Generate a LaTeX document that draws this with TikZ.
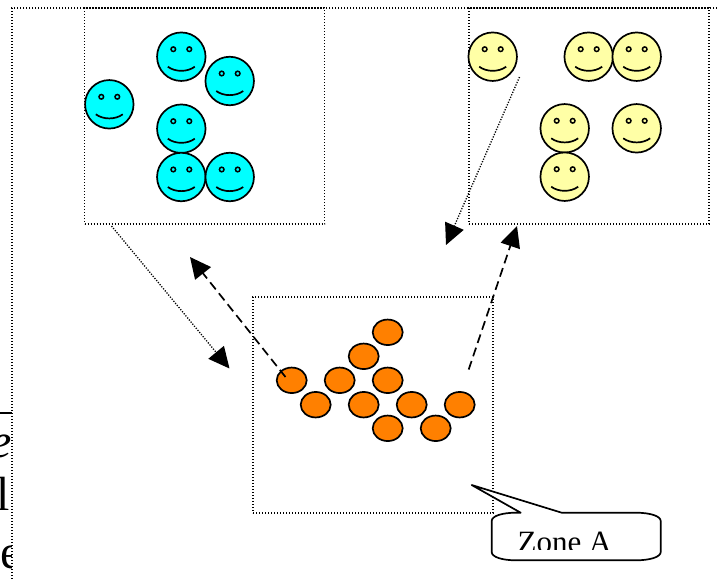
\documentclass[tikz,border=0pt]{standalone}
\usepackage{fontspec}
\setmainfont{Liberation Serif}
\usetikzlibrary{positioning, arrows.meta, calc, shapes.geometric}

\definecolor{facecyan}{HTML}{00FFFF}
\definecolor{faceyellow}{HTML}{FFFFA6}
\definecolor{dotorange}{HTML}{FF8000}

\tikzset{
  pics/smiley/.style={code={
    \node (-face) [circle, draw, line width=1.7pt, minimum size=48.5pt, inner sep=0pt, fill=#1] at (0,0) {};
    \draw[line width=1.5pt] (-8,-7.5) circle (2.3) (8,-7.5) circle (2.3);
    \draw[line width=1.7pt] (-13.5,10) .. controls (-6,15.5) and (6,15.5) .. (13.5,10);
  }}
}

\begin{document}
\begin{tikzpicture}[
  x=1pt, y=-1pt,
  zonebox/.style={draw, line width=1.3pt, dash pattern=on 1.2pt off 1.8pt, minimum width=240pt, minimum height=216pt, inner sep=0pt},
  dotline/.style={draw, line width=1.3pt, dash pattern=on 1.2pt off 1.5pt},
  dashline/.style={draw, line width=1.7pt, dash pattern=on 9pt off 5pt},
  headtip/.style={-{Triangle[length=21pt,width=20pt]}},
  orangedot/.style={ellipse, draw, line width=1.7pt, fill=dotorange, minimum width=30pt, minimum height=25.5pt, inner sep=0pt},
  cuttext/.style={anchor=base west, inner sep=0pt, font=\fontsize{48}{50}\selectfont}
]
\useasboundingbox (0,0) rectangle (717,579);

% text cut off by the frame
\node (cutrule) [anchor=west, inner sep=0pt, minimum width=12pt, minimum height=2pt, fill=black] at (0,413) {};
\node (cutA) [cuttext, font=\fontsize{48}{50}\selectfont\itshape] at (-10,457) {e};
\node (cutB) [cuttext] at (-4,510) {l};
\node (cutC) [cuttext] at (0,568) {e};

\path[fill=white] (12,8) rectangle (717,579);
\draw[line width=1.3pt, dash pattern=on 1.2pt off 1.8pt] (717,8) -- (12,8) -- (12,579);

\node (blueZone) [zonebox] at (204.5,116) {};
\node (yellowZone) [zonebox] at (589,116) {};
\node (orangeZone) [zonebox] at (373,405) {};

\foreach \x/\y [count=\i] in {181.3/56.7, 229.7/81, 109.3/104.3, 181.3/128.7, 181.3/177, 229.7/177}
  \pic (blue\i) at (\x,\y) {smiley=facecyan};

\foreach \x/\y [count=\i] in {492.7/56.7, 588.7/56.7, 636.7/56.7, 564.7/128.3, 636.7/128.3, 564.7/176.7}
  \pic (yellow\i) at (\x,\y) {smiley=faceyellow};

\foreach \x/\y [count=\i] in {387.7/332.3, 363.7/356.3, 291.7/380.3, 339.7/380.3, 387.7/380.3, 315.7/404.7, 363.7/404.7, 411.7/404.7, 459.7/404.7, 387.7/428.3, 435.7/428.3}
  \node (dot\i) [orangedot] at (\x,\y) {};

\coordinate (blueOut) at (111.5,226);
\coordinate (orangeIn) at (229.5,368.5);
\coordinate (dotStart) at (285.5,377);
\coordinate (blueIn) at (190,257);
\coordinate (orangeOut) at (468.7,369.5);
\coordinate (yellowIn) at (517,226);
\coordinate (yellowOut) at (519.5,77);
\coordinate (orangeBack) at (446,245);

\draw[dotline, headtip] (blueOut) -- (orangeIn);
\draw[dashline, headtip] (dotStart) -- (blueIn);
\draw[dashline, headtip] (orangeOut) -- (yellowIn);
\draw[dotline, headtip] (yellowOut) -- (orangeBack);

% callout
\draw[line width=1.7pt, fill=white, line join=round] (471.7,485) -- (561.7,512.7) -- (636,512.7)
  .. controls (650,512.7) and (660.7,516) .. (660.7,521)
  -- (660.7,552)
  .. controls (660.7,557) and (650,560.3) .. (636,560.3)
  -- (516,560.3)
  .. controls (502,560.3) and (491.7,557) .. (491.7,552)
  -- (491.7,521)
  .. controls (491.7,516) and (502,512.7) .. (516,512.7)
  -- (520.7,512.7) -- cycle;
\begin{scope}
  \clip (492,514) rectangle (660,549);
  \node (zoneLabel) [anchor=base, inner sep=0pt, font=\fontsize{31}{33}\selectfont] at (564.5,552) {Zone A};
\end{scope}

\end{tikzpicture}
\end{document}
